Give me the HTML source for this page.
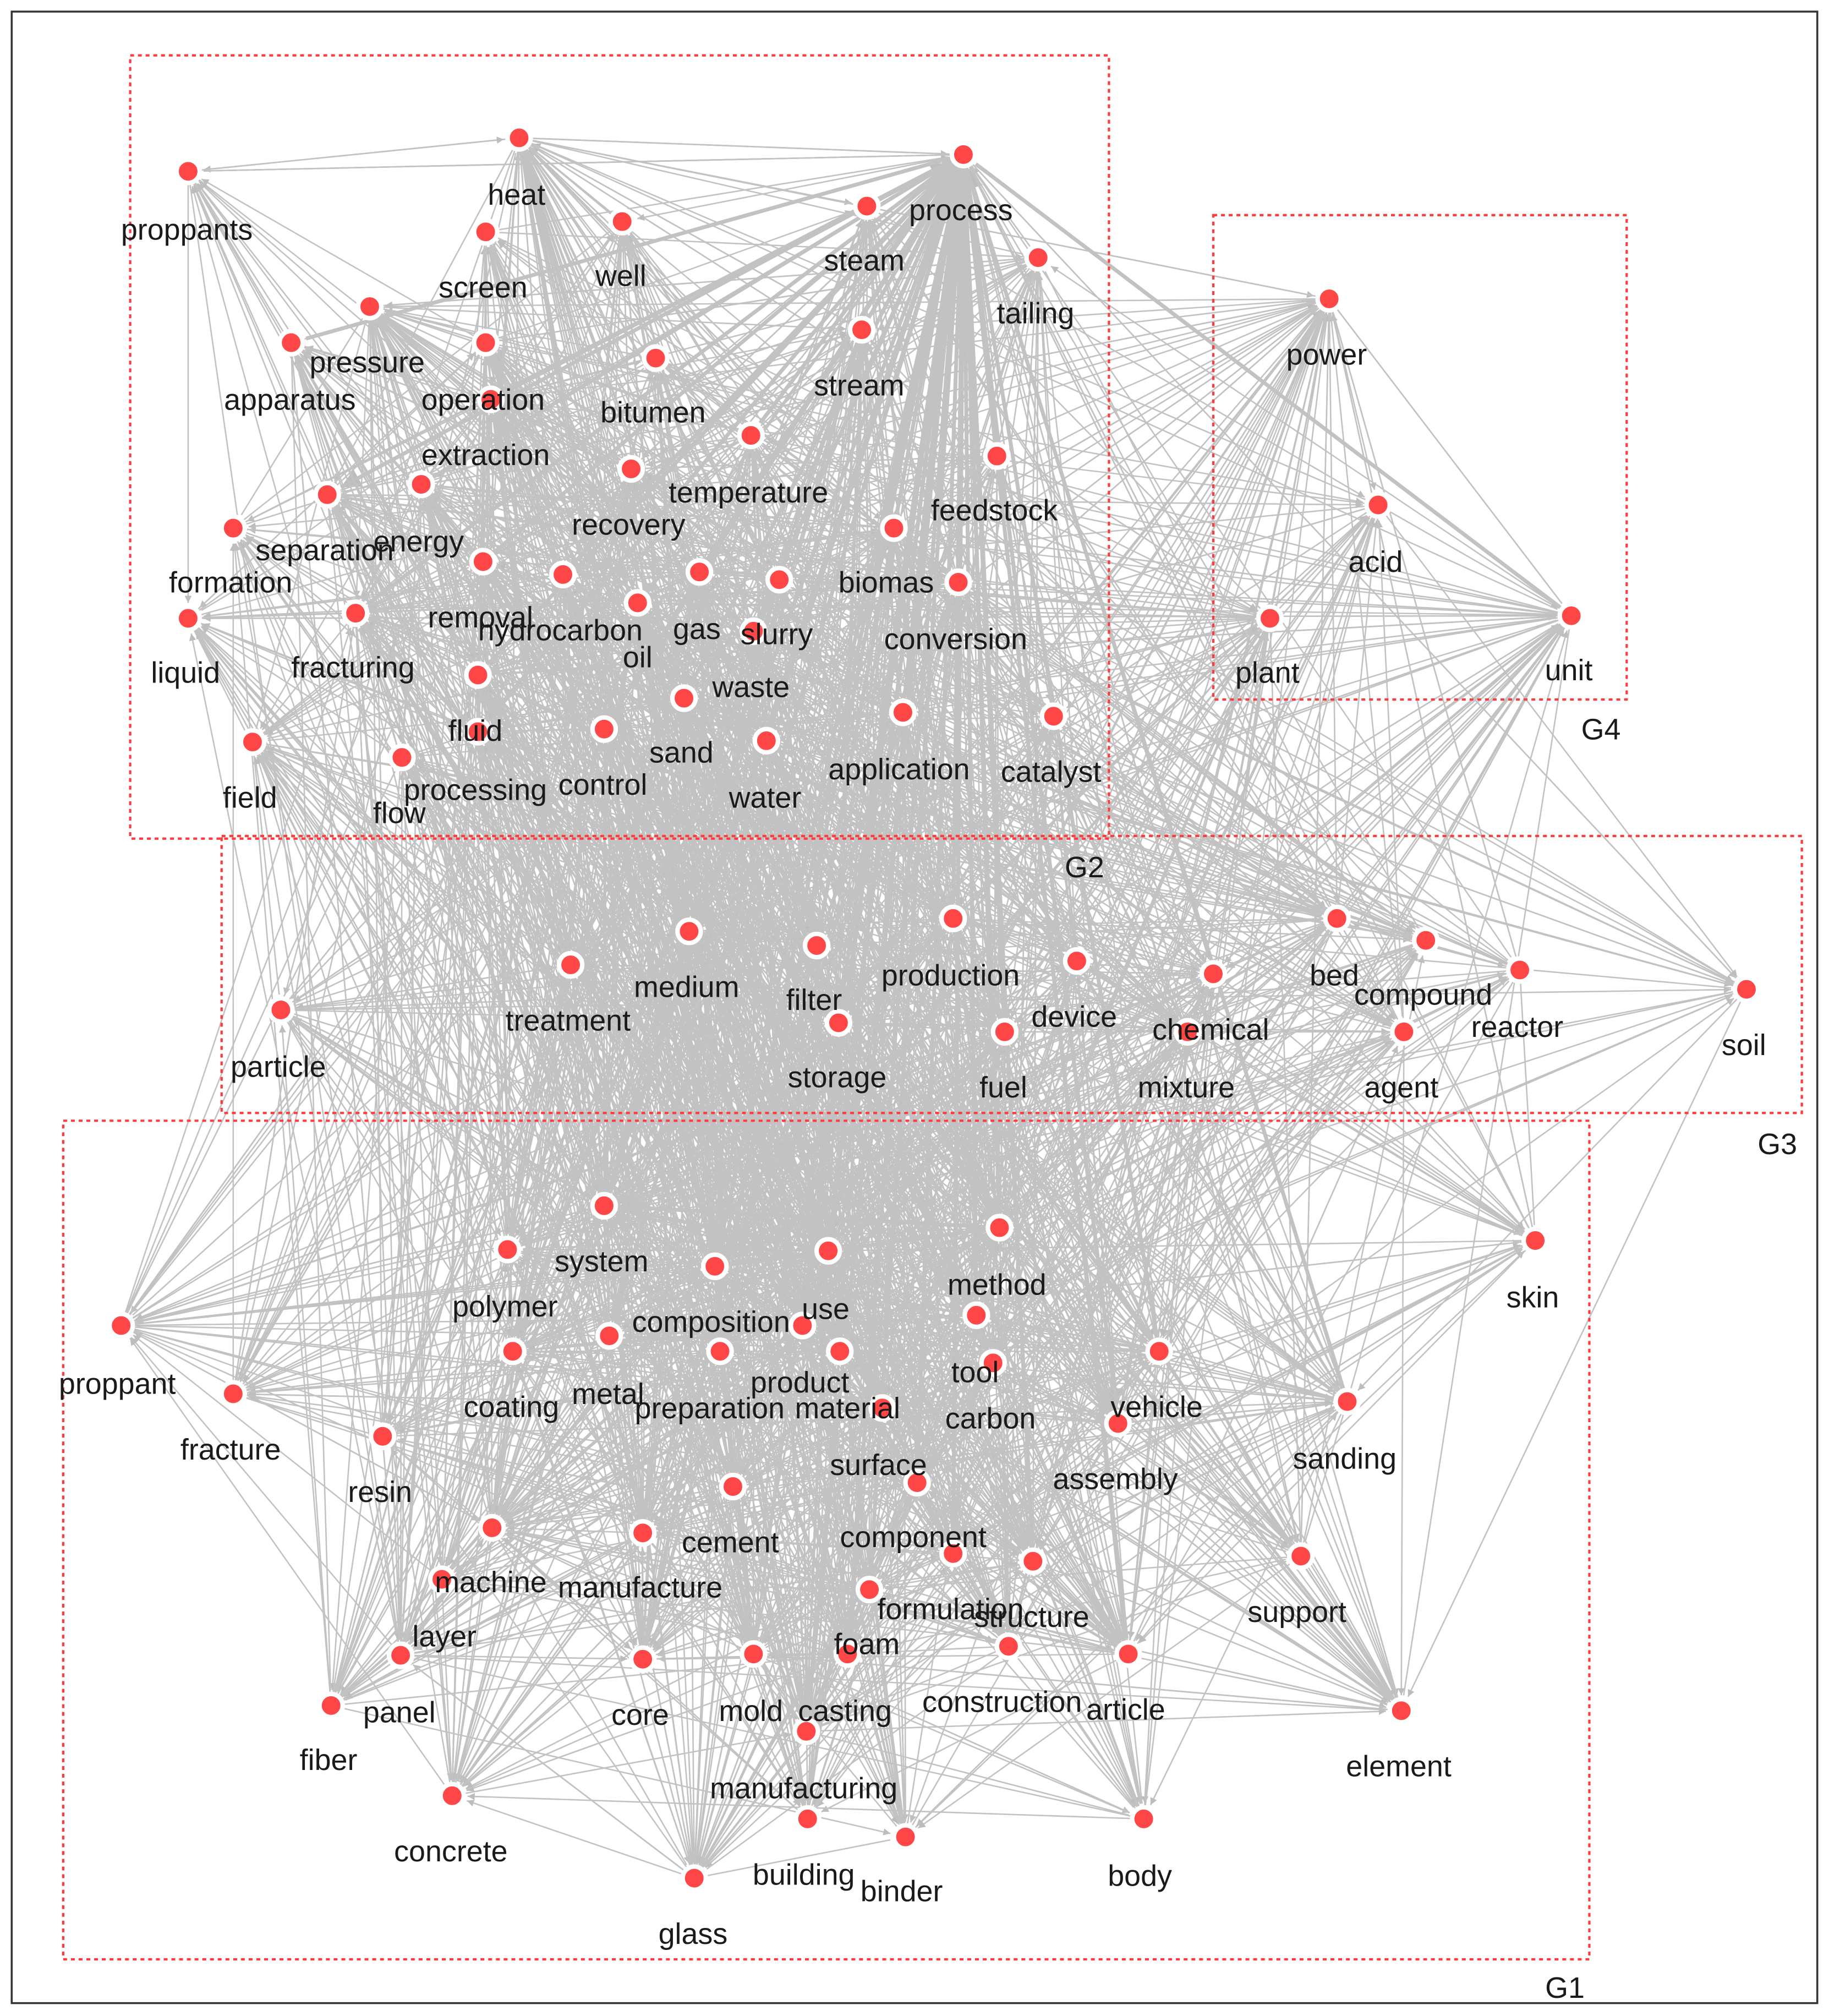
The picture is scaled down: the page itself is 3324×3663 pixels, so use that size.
<!DOCTYPE html>
<html><head><meta charset="utf-8">
<style>
html,body{margin:0;padding:0;background:#fff;}
svg{display:block;}
text{font-family:"Liberation Sans",sans-serif;font-size:23px;fill:#1a1a1a;text-anchor:middle;}
</style></head>
<body>
<svg id="s" width="3324" height="3663" viewBox="0 0 1420 1565" xmlns="http://www.w3.org/2000/svg">
<defs>
<marker id="a" viewBox="0 0 10 10" refX="10" refY="5" markerWidth="5" markerHeight="5" orient="auto"><path d="M0,0L10,5L0,10z" fill="#bdbdbd"/></marker>
</defs>
<rect x="0" y="0" width="1420" height="1565" fill="#fff"/>
<rect x="9" y="9" width="1402" height="1546" fill="none" stroke="#333" stroke-width="1.5"/>
<g id="edges" stroke="#c2c2c2" stroke-width="1.1" fill="none"></g>
<g fill="none" stroke="#ff3b3b" stroke-width="1.8" stroke-dasharray="3,3">
<rect x="101" y="43" width="760" height="608"/>
<rect x="942" y="167" width="321" height="376"/>
<rect x="172" y="649" width="1227" height="215"/>
<rect x="49" y="870" width="1185" height="651"/>
</g>
<g id="nodes" fill="#ff4747" stroke="#fff" stroke-width="3.5"></g>
<g id="labels">
<text x="145" y="186">proppants</text><text x="401" y="159">heat</text><text x="746" y="171">process</text>
<text x="671" y="210">steam</text><text x="375" y="231">screen</text><text x="482" y="222">well</text>
<text x="804" y="251">tailing</text><text x="1030" y="283">power</text><text x="285" y="289">pressure</text>
<text x="225" y="318">apparatus</text><text x="375" y="318">operation</text><text x="507" y="328">bitumen</text>
<text x="667" y="307">stream</text><text x="377" y="361">extraction</text><text x="581" y="390">temperature</text>
<text x="772" y="404">feedstock</text><text x="1068" y="444">acid</text><text x="488" y="415">recovery</text>
<text x="252" y="435">separation</text><text x="325" y="428">energy</text><text x="179" y="460">formation</text>
<text x="373" y="487">removal</text><text x="435" y="497">hydrocarbon</text><text x="541" y="496">gas</text>
<text x="603" y="500">slurry</text><text x="688" y="460">biomas</text><text x="742" y="504">conversion</text>
<text x="144" y="530">liquid</text><text x="274" y="526">fracturing</text><text x="495" y="518">oil</text>
<text x="984" y="530">plant</text><text x="1218" y="528">unit</text><text x="369" y="575">fluid</text>
<text x="583" y="541">waste</text><text x="529" y="592">sand</text><text x="698" y="605">application</text>
<text x="816" y="607">catalyst</text><text x="194" y="627">field</text><text x="310" y="639">flow</text>
<text x="369" y="621">processing</text><text x="468" y="617">control</text><text x="594" y="627">water</text>
<text x="842" y="681">G2</text><text x="1243" y="574">G4</text><text x="1380" y="896">G3</text><text x="1215" y="1551">G1</text>
<text x="533" y="774">medium</text><text x="632" y="784">filter</text><text x="738" y="765">production</text>
<text x="834" y="797">device</text><text x="441" y="800">treatment</text><text x="650" y="844">storage</text>
<text x="779" y="852">fuel</text><text x="940" y="807">chemical</text><text x="921" y="852">mixture</text>
<text x="1036" y="765">bed</text><text x="1105" y="780">compound</text><text x="1178" y="805">reactor</text>
<text x="1088" y="852">agent</text><text x="1354" y="819">soil</text><text x="216" y="836">particle</text>
<text x="467" y="987">system</text><text x="392" y="1022">polymer</text><text x="641" y="1024">use</text>
<text x="552" y="1034">composition</text><text x="774" y="1005">method</text><text x="1190" y="1015">skin</text>
<text x="91" y="1082">proppant</text><text x="757" y="1073">tool</text><text x="397" y="1100">coating</text>
<text x="472" y="1090">metal</text><text x="621" y="1081">product</text><text x="551" y="1101">preparation</text>
<text x="658" y="1101">material</text><text x="769" y="1109">carbon</text><text x="898" y="1100">vehicle</text>
<text x="179" y="1133">fracture</text><text x="295" y="1166">resin</text><text x="1044" y="1140">sanding</text>
<text x="866" y="1156">assembly</text><text x="682" y="1145">surface</text><text x="567" y="1205">cement</text>
<text x="709" y="1201">component</text><text x="381" y="1236">machine</text><text x="497" y="1240">manufacture</text>
<text x="1007" y="1259">support</text><text x="345" y="1278">layer</text><text x="738" y="1257">formulation</text>
<text x="801" y="1263">structure</text><text x="673" y="1284">foam</text><text x="310" y="1337">panel</text>
<text x="497" y="1339">core</text><text x="583" y="1336">mold</text><text x="656" y="1336">casting</text>
<text x="778" y="1329">construction</text><text x="874" y="1335">article</text><text x="1086" y="1379">element</text>
<text x="255" y="1374">fiber</text><text x="624" y="1396">manufacturing</text><text x="350" y="1445">concrete</text>
<text x="624" y="1463">building</text><text x="700" y="1476">binder</text><text x="885" y="1464">body</text>
<text x="538" y="1509">glass</text>
</g>
</svg>
<script>
var N=[[146,133,1],[403,107,4],[748,120,8],[673,160,2],[377,180,2],[483,172,2],[806,200,2],[1032,232,3],[287,238,3],[226,266,3],[377,266,3],[509,278,2],[669,256,3],[381,310,3],[583,338,3],[774,354,2],[1070,392,2],[490,364,3],[254,384,3],[327,376,3],[181,410,2],[375,436,3],[437,446,3],[543,444,4],[605,450,3],[694,410,3],[744,452,3],[146,480,2],[276,476,3],[495,468,4],[986,480,3],[1220,478,3],[371,524,3],[585,490,3],[531,542,3],[701,553,3],[818,556,2],[196,576,2],[312,588,2],[371,568,3],[469,566,3],[595,575,3],
[535,723,4],[634,734,3],[740,713,4],[836,746,3],[443,749,4],[651,794,3],[780,801,3],[942,756,3],[922,801,3],[1038,713,3],[1107,730,2],[1180,753,2],[1090,801,2],[1356,768,2],[218,784,2],
[469,936,6],[394,970,3],[643,971,6],[555,983,5],[776,953,6],[1192,963,2],[94,1029,2],[758,1021,3],[398,1049,3],[473,1037,3],[623,1029,4],[559,1049,3],[652,1049,4],[771,1058,3],[900,1049,3],[181,1082,2],[297,1115,2],[1046,1088,3],[868,1105,3],[685,1093,3],[569,1154,3],[712,1151,3],[382,1186,3],[499,1190,3],[1010,1208,2],[343,1226,2],[740,1206,3],[802,1212,3],[675,1234,3],[311,1285,2],[499,1288,3],[585,1284,3],[658,1284,3],[783,1278,3],[876,1284,3],[1088,1328,2],[257,1324,2],[626,1344,3],[351,1394,2],[627,1412,2],[703,1426,2],[888,1412,2],[539,1458,3]];
var seed=12345;function r(){seed=(seed*1103515245+12345)%2147483648;return seed/2147483648;}
function mk(p){var t=0,W=N.map(function(n){var w=Math.pow(n[2],p);t+=w;return w;});return function(){var x=r()*t;for(var i=0;i<W.length;i++){x-=W[i];if(x<=0)return i;}return W.length-1;};}
var pick=mk(1),pick2=mk(2.2);
var E=document.getElementById("edges"),h="";
function add(a,b,arrow){if(a==b)return;var A=N[a],B=N[b];
var dx=B[0]-A[0],dy=B[1]-A[1],d=Math.sqrt(dx*dx+dy*dy);if(d<20)return;
var ex=B[0]-dx/d*12,ey=B[1]-dy/d*12;var w=(A[2]+B[2]>10&&r()<0.3)?3:1.1;
h+='<line x1="'+A[0]+'" y1="'+A[1]+'" x2="'+ex.toFixed(1)+'" y2="'+ey.toFixed(1)+'" stroke-width="'+w+'"'+(arrow?' marker-end="url(#a)"':'')+'/>';}
for(var k=0;k<1700;k++){add(pick(),pick(),true);}
for(var k=0;k<1400;k++){add(pick2(),pick(),false);}
E.innerHTML=h;
var G=document.getElementById("nodes"),c="";N.forEach(function(n){c+='<circle cx="'+n[0]+'" cy="'+n[1]+'" r="9"/>';});G.innerHTML=c;
</script>
</body></html>
